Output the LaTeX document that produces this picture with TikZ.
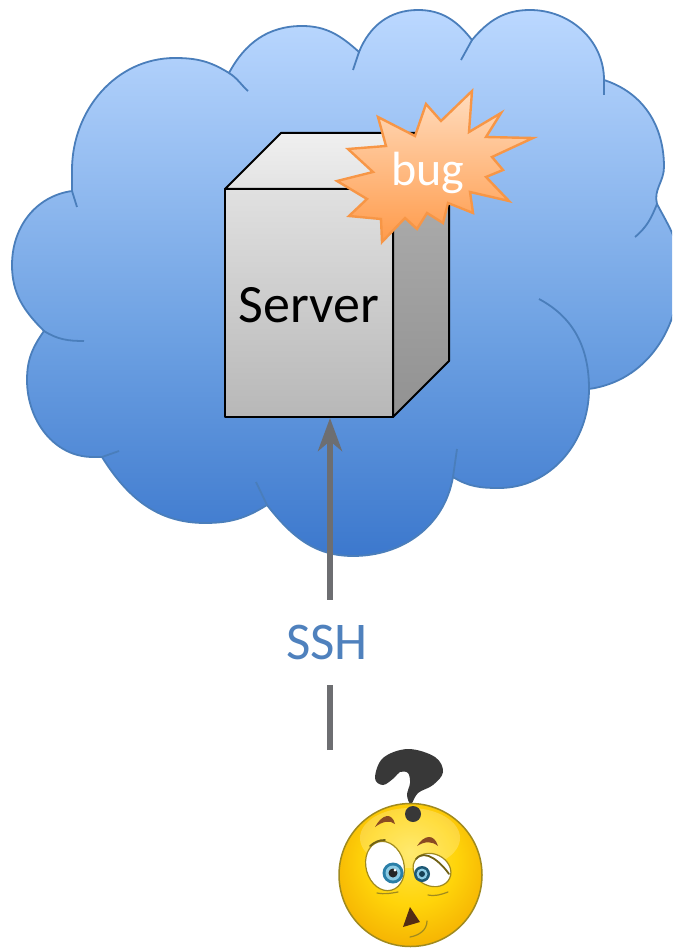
\documentclass[tikz,border=0pt]{standalone}
\usepackage{fontspec}
\setmainfont{Carlito}
\usetikzlibrary{arrows.meta,bbox}
\definecolor{cloudedge}{HTML}{4A7EBB}
\definecolor{arrowgray}{HTML}{6D6E71}
\definecolor{sshblue}{HTML}{4F81BD}
\definecolor{bugedge}{HTML}{F79646}
\definecolor{bugtop}{RGB}{255,220,190}
\definecolor{bugbot}{RGB}{255,155,75}
\definecolor{browncol}{HTML}{8A4A22}
\definecolor{rimcol}{HTML}{A08A1E}
\definecolor{irisblue}{HTML}{2A7FA8}
\definecolor{irislight}{HTML}{8CCBE4}
\definecolor{cloudtop}{RGB}{187,216,255}
\definecolor{cloudmid}{RGB}{108,160,226}
\definecolor{cloudbot}{RGB}{60,120,205}
\pgfdeclareverticalshading{cloudshade}{100bp}{
  color(0bp)=(cloudbot); color(25bp)=(cloudbot);
  color(44.8bp)=(cloudmid);
  color(75bp)=(cloudtop); color(100bp)=(cloudtop)}
\definecolor{faceinner}{RGB}{255,228,70}
\definecolor{facemid}{RGB}{255,212,10}
\definecolor{faceouter}{RGB}{242,168,0}
\pgfdeclareradialshading{faceshade}{\pgfpoint{0bp}{8bp}}{
  color(0bp)=(faceinner); color(16bp)=(facemid);
  color(33bp)=(faceouter); color(50bp)=(faceouter)}
\tikzset{
  cloudline/.style={draw=cloudedge, line width=1.8pt},
  cubeline/.style={draw=black, line width=2pt, line join=round},
  sshline/.style={draw=arrowgray, line width=5.5pt},
  eyeline/.style={draw=rimcol, line width=1.2pt, line cap=round},
}
\begin{document}
\begin{tikzpicture}[x=1pt,y=-1pt]
  \useasboundingbox (0,0) rectangle (672,949);
  \clip (0,0) rectangle (672,949);

  % Cloud
  \path[cloudline, shading=cloudshade, bezier bounding box=true]
    (44,331) to[out=135,in=-90] (12,265) to[out=90,in=188] (72,191)
    -- (72,170) to[out=90,in=180] (175,58) to[out=0,in=148] (229,73)
    to[out=62,in=180] (302,26) to[out=0,in=138] (359,52)
    to[out=68,in=180] (418,10) to[out=0,in=128] (472,40)
    to[out=50,in=180] (530,10) to[out=0,in=90] (604,80)
    to[out=-18,in=90] (664,167) to[out=-90,in=105] (657,204)
    to[out=-62,in=90] (680,270) to[out=-90,in=8] (589,389)
    to[out=-90,in=0] (499,488) to[out=180,in=-32] (453,477)
    to[out=-100,in=0] (353,556) to[out=180,in=-52] (267,505)
    to[out=212,in=0] (205,523) to[out=180,in=-58] (102,457)
    to[out=178,in=0] (93,457) to[out=180,in=-90] (27,380)
    to[out=90,in=-125] (44,331) -- cycle;
  \draw[cloudline] (44,331) to[out=-32,in=180] (84,341);
  \draw[cloudline] (72,191) -- (77,207);
  \draw[cloudline] (229,73) to[out=-32,in=138] (248,91);
  \draw[cloudline] (353,70) -- (359,52);
  \draw[cloudline] (461,60) -- (472,40);
  \draw[cloudline] (604,80) -- (604,95);
  \draw[cloudline] (657,204) to[out=-112,in=40] (635,237);
  \draw[cloudline] (539,299) to[out=-28,in=90] (589,389);
  \draw[cloudline] (457,449) -- (453,477);
  \draw[cloudline] (267,505) -- (256,482);
  \draw[cloudline] (102,457) -- (119,451);

  % Server
  \shade[cubeline, top color=black!6, bottom color=black!11]
    (225,189) -- (281,133) -- (449,133) -- (393,189) -- cycle;
  \shade[cubeline, top color=black!12, bottom color=black!28]
    (225,189) rectangle (393,417);
  \shade[cubeline, top color=black!30, bottom color=black!43]
    (393,189) -- (449,133) -- (449,361) -- (393,417) -- cycle;
  \node[font=\fontsize{54}{54}\selectfont, text=black] (server) at (309,305) {Server};

  % SSH link
  \node[text=sshblue, font=\fontsize{53}{53}\selectfont, minimum height=85pt, inner sep=0pt] (ssh) at (327,642.5) {SSH};
  \coordinate (userhead) at (330,750);
  \coordinate (serverbase) at (330,418);
  \draw[sshline] (userhead) -- (userhead |- ssh.south);
  \draw[sshline, -{Stealth[length=33pt,width=24pt,inset=10pt]}] (userhead |- ssh.north) -- (serverbase);

  % Bug
  \shade[draw=bugedge, line width=2.4pt, line join=miter, top color=bugtop, bottom color=bugbot]
    (472,91) -- (469,132) -- (501,113) -- (486,137) -- (533,138) -- (492,157)
    -- (503,170) -- (486,177) -- (509,201) -- (470,192) -- (473,213) -- (448,203)
    -- (443,223) -- (427,213) -- (417,229) -- (405,218) -- (382,242) -- (381,219)
    -- (349,216) -- (367,199) -- (337,181) -- (373,172) -- (348,149) -- (386,146)
    -- (378,117) -- (415,136) -- (426,104) -- (441,121) -- cycle;
  \node[text=white, font=\fontsize{48}{48}\selectfont] (bug) at (428,173) {bug};

  % Question mark
  \fill[black!78] plot[smooth cycle, tension=0.6] coordinates {(375,778) (383,758) (408,749) (435,757) (443,772)
    (433,785) (418,793) (411,804) (407,795) (410,783) (408,773) (400,772) (394,778) (383,785)};

  % Face
  \shade[draw=rimcol, line width=1.5pt, shading=faceshade] (410.5,875) circle[radius=71.5];
  \fill[white, opacity=0.22] (410,838) ellipse[x radius=50, y radius=30];
  \fill[black!78] (413,814) circle[radius=8];
  \fill[browncol] (375,827) .. controls (382,814) and (392,812) .. (395,824) .. controls (390,820) and (383,821) .. (375,827) -- cycle;
  \fill[browncol] (417,846) .. controls (424,835) and (434,833) .. (438,846) .. controls (432,841) and (425,841) .. (417,846) -- cycle;

  % Eyes
  \draw[eyeline, fill=white, rotate around={15:(385,866)}] (385,866) ellipse[x radius=19, y radius=25];
  \draw[eyeline, fill=white, rotate around={-25:(432,870)}] (432,870) ellipse[x radius=19.5, y radius=16];
  \draw[rimcol!70!black, line width=1.8pt, line cap=round] (370,846) to[out=40,in=180] (385,840);
  \draw[rimcol!70!black, line width=1.8pt, line cap=round] (416,859) to[out=50,in=125] (449,874);
  \fill[irisblue] (393,873) circle[radius=10.5];
  \fill[irislight] (393,873) circle[radius=7.5];
  \fill[black!85] (393,873) circle[radius=4.5];
  \fill[white] (395,870) circle[radius=1.5];
  \fill[irisblue!70!black] (422,874) circle[radius=8];
  \fill[irislight] (422,874) circle[radius=5.5];
  \fill[irisblue!50!black] (422,874) circle[radius=3];
  \draw[eyeline] (377,893) to[out=-10,in=190] (398,892);
  \draw[eyeline] (428,895) to[out=-10,in=200] (448,892);

  % Mouth
  \fill[browncol!60!black] (410,907) -- (420,922) -- (403,927) -- cycle;
  \draw[eyeline] (427,921) to[out=-90,in=10] (410,937);
\end{tikzpicture}
\end{document}
